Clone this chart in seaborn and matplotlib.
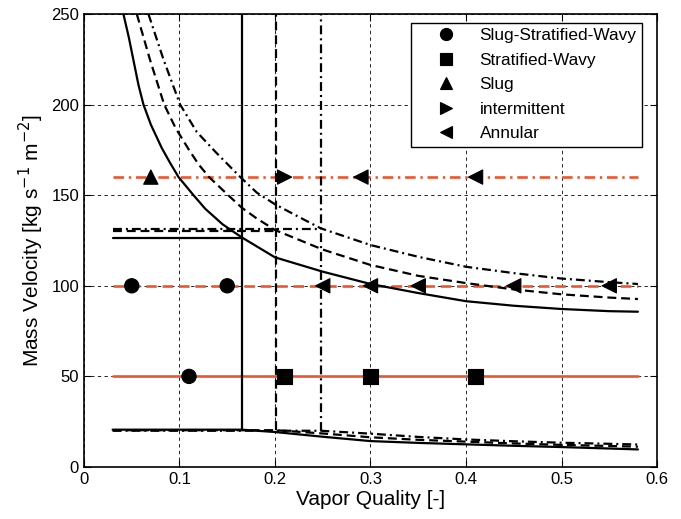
import numpy as np
import pandas as pd
import seaborn as sns
import matplotlib
matplotlib.use("Agg")
import matplotlib.pyplot as plt

# -----------------------------------------------------------------------------
# data
# -----------------------------------------------------------------------------
# transition curves (upper branch), three models: solid / dashed / dash-dot
solid_x = [0.0413, 0.047, 0.052, 0.057, 0.0623, 0.07, 0.0815, 0.09, 0.099, 0.1147, 0.127, 0.145, 0.165,
           0.20, 0.25, 0.30, 0.35, 0.40, 0.45, 0.50, 0.55, 0.58]
solid_y = [250, 237, 224, 211, 200, 189, 176, 168, 160, 150, 142.5, 134, 126.8,
           115.7, 107.8, 101, 96, 91.5, 89, 87.2, 86, 85.7]
dashed_x = [0.0553, 0.069, 0.084, 0.096, 0.11, 0.12, 0.131, 0.151, 0.1655, 0.18, 0.20,
            0.25, 0.30, 0.35, 0.40, 0.45, 0.50, 0.55, 0.58]
dashed_y = [250, 225, 200, 187, 175, 167, 160, 150, 143, 137.5, 130.8,
            120, 111.5, 105.5, 101.5, 98, 95.3, 93.5, 92.7]
dashdot_x = [0.0675, 0.0832, 0.1007, 0.118, 0.1375, 0.1637, 0.181, 0.20, 0.225, 0.248,
             0.30, 0.35, 0.40, 0.45, 0.50, 0.55, 0.58]
dashdot_y = [250, 225, 200, 185, 174, 160, 151.4, 145, 138, 131.7,
             122.5, 116, 110.5, 107, 104, 102, 101]

# lower branch
solid_low_x = [0.03, 0.165, 0.20, 0.25, 0.30, 0.35, 0.40, 0.45, 0.50, 0.55, 0.58]
solid_low_y = [20.6, 20.6, 19.3, 16.7, 14.3, 13.3, 12.5, 11.7, 11.0, 10.2, 9.7]
dashed_low_x = [0.03, 0.201, 0.25, 0.30, 0.35, 0.40, 0.45, 0.50, 0.55, 0.58]
dashed_low_y = [20.3, 20.3, 18.5, 16.4, 15.0, 14.0, 13.0, 12.2, 11.6, 11.2]
dashdot_low_x = [0.03, 0.248, 0.30, 0.35, 0.40, 0.45, 0.50, 0.55, 0.58]
dashdot_low_y = [20.0, 20.0, 18.4, 16.6, 15.2, 14.2, 13.4, 12.8, 12.4]

# vertical boundary (x) and left horizontal boundary (G) of each model
vert_x = [0.165, 0.201, 0.248]
horiz_g = [126.5, 130.5, 131.2]
x_start = 0.03
x_end = 0.58

# experimental mass velocities (orange lines)
test_g = [160, 100, 50]

# observed flow regimes
obs_x = [0.05, 0.15, 0.11,
         0.21, 0.30, 0.41,
         0.07,
         0.21,
         0.29, 0.41, 0.25, 0.30, 0.35, 0.45, 0.55]
obs_g = [100, 100, 50,
         50, 50, 50,
         160,
         160,
         160, 160, 100, 100, 100, 100, 100]
obs_regime = (["Slug-Stratified-Wavy"] * 3 + ["Stratified-Wavy"] * 3 + ["Slug"]
              + ["intermittent"] + ["Annular"] * 7)
regime_order = ["Slug-Stratified-Wavy", "Stratified-Wavy", "Slug", "intermittent", "Annular"]
regime_markers = {"Slug-Stratified-Wavy": "o", "Stratified-Wavy": "s", "Slug": "^",
                  "intermittent": ">", "Annular": "<"}

xticks = [0, 0.1, 0.2, 0.3, 0.4, 0.5, 0.6]
xtick_labels = ["0", "0.1", "0.2", "0.3", "0.4", "0.5", "0.6"]
yticks = [0, 50, 100, 150, 200, 250]

# -----------------------------------------------------------------------------
sns.set_style("ticks")
plt.rcParams["font.family"] = ["Liberation Sans", "DejaVu Sans"]
plt.rcParams["text.color"] = "k"
plt.rcParams["axes.labelcolor"] = "k"

fig = plt.figure(figsize=(6.81, 5.19), dpi=100)
ax = fig.add_axes([0.1233, 0.1002, 0.8415, 0.8728])

orange = "#EE552D"
dash = (0, (4.0, 2.2))
dashdot = (0, (4.0, 1.8, 0.9, 1.8))
styles = ["-", dash, dashdot]
lw = 1.6

# orange test lines
for g, ls in zip(test_g, [dashdot, dash, "-"]):
    sns.lineplot(x=[x_start, x_end], y=[g, g], color=orange, linestyle=ls, linewidth=1.9,
                 ax=ax, zorder=3)

curves = [(solid_x, solid_y, solid_low_x, solid_low_y),
          (dashed_x, dashed_y, dashed_low_x, dashed_low_y),
          (dashdot_x, dashdot_y, dashdot_low_x, dashdot_low_y)]
for (ux, uy, lx, ly), xv, gh, ls in zip(curves, vert_x, horiz_g, styles):
    kw = dict(sort=False, estimator=None, color="k", linestyle=ls, linewidth=lw, ax=ax, zorder=4)
    sns.lineplot(x=ux, y=uy, **kw)
    sns.lineplot(x=lx, y=ly, **kw)
    sns.lineplot(x=[x_start, xv], y=[gh, gh], **kw)
    sns.lineplot(x=[xv, xv], y=[ly[0], 250], **kw)

obs = pd.DataFrame({"x": obs_x, "G": obs_g, "regime": obs_regime})
sns.scatterplot(data=obs, x="x", y="G", style="regime", style_order=regime_order,
                markers=regime_markers, color="k", edgecolor="k", s=105, ax=ax, zorder=5)

handles, labels = ax.get_legend_handles_labels()
leg = ax.legend(handles, labels, loc="upper right", bbox_to_anchor=(0.973, 0.980),
                fontsize=12.4, frameon=True, fancybox=False,
                edgecolor="k", framealpha=1, borderaxespad=0.0, handlelength=3.45,
                handletextpad=0.2, labelspacing=0.55, borderpad=0.3, markerscale=0.85)
leg.get_frame().set_linewidth(1.0)

ax.set_xlim(0, 0.6)
ax.set_ylim(0, 250)
ax.set_xticks(xticks)
ax.set_xticklabels(xtick_labels)
ax.set_yticks(yticks)
ax.grid(True, color="k", linestyle=(0, (4, 4)), lw=0.6)
ax.tick_params(direction="in", top=True, right=True, length=5, labelsize=12,
               colors="k", labelcolor="k")
for sp in ax.spines.values():
    sp.set_visible(True)
    sp.set_linewidth(1.2)
    sp.set_color("k")

ax.set_xlabel("Vapor Quality [-]", fontsize=15, color="k", labelpad=2)
ax.set_ylabel("Mass Velocity [kg s$^{-1}$ m$^{-2}$]", fontsize=15, color="k")

fig.savefig("out.png", dpi=100)
